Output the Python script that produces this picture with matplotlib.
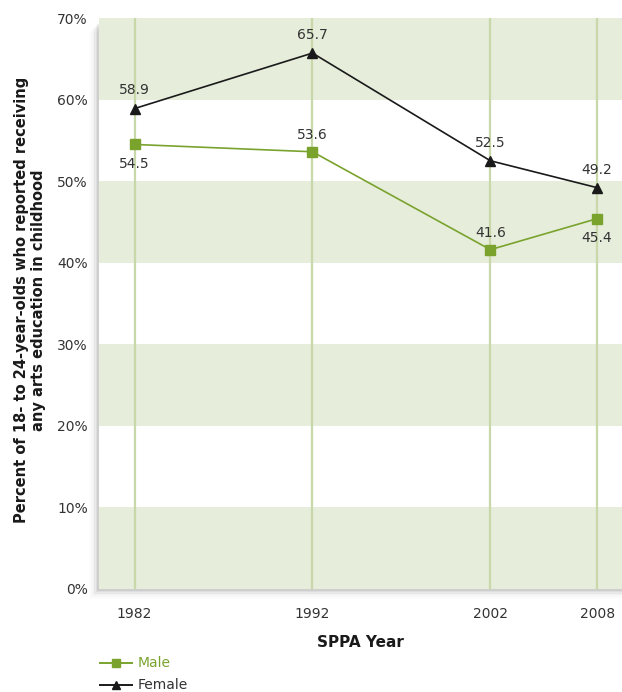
import matplotlib
matplotlib.use("Agg")
import matplotlib.pyplot as plt
from matplotlib.patches import Rectangle

years = [1982, 1992, 2002, 2008]
male = [54.5, 53.6, 41.6, 45.4]
female = [58.9, 65.7, 52.5, 49.2]
male_label_pos = ["below", "above", "above", "below"]
female_label_pos = ["above", "above", "above", "above"]
yticks = [0, 10, 20, 30, 40, 50, 60, 70]
ytick_labels = ["0%", "10%", "20%", "30%", "40%", "50%", "60%", "70%"]

GREEN = "#7aa32e"
BAND = "#e6eddb"
GRID = "#c8d8a8"
TXT = "#333333"
BLACK = "#1a1a1a"

fig = plt.figure(figsize=(6.22, 6.92), dpi=100)
L, B, R, T = 99/622, 103/692, 1.0, 674/692
# drop shadow
for i, a in enumerate([0.06, 0.045, 0.035, 0.025, 0.018, 0.012]):
    d = (i + 1) * 1.6
    r = Rectangle((L - d/622, B - d/692), R - L + d/622, T - B - 4/692,
                  transform=fig.transFigure, facecolor="black",
                  alpha=a, edgecolor="none", zorder=-5)
    fig.add_artist(r)
ax = fig.add_axes([L, B, R - L, T - B])
ax.set_zorder(5)
ax.set_facecolor("white")
ax.set_xlim(1980, 2009.4)
ax.set_ylim(0, 70)

for lo in [0, 20, 40, 60]:
    ax.axhspan(lo, lo + 10, color=BAND, zorder=0, lw=0)
for y in years:
    ax.axvline(y, color=GRID, lw=1.6, zorder=1)

ax.plot(years, male, color=GREEN, lw=1.2, marker="s", markersize=7, zorder=3)
ax.plot(years, female, color=BLACK, lw=1.2, marker="^", markersize=7.5, zorder=3)

for x, v, p in zip(years, male, male_label_pos):
    off = 12 if p == "above" else -14
    ax.annotate(f"{v}", (x, v), xytext=(0, off), textcoords="offset points",
                ha="center", va="center", fontsize=10, color=TXT)
for x, v, p in zip(years, female, female_label_pos):
    ax.annotate(f"{v}", (x, v), xytext=(0, 13), textcoords="offset points",
                ha="center", va="center", fontsize=10, color=TXT)

for s in ax.spines.values():
    s.set_visible(False)
ax.set_yticks(yticks)
ax.set_yticklabels(ytick_labels, color=TXT, fontsize=10)
ax.set_xticks(years)
ax.set_xticklabels([str(y) for y in years], color=TXT, fontsize=10)
ax.tick_params(length=0, pad=8)
ax.tick_params(axis="x", pad=13)

ax.set_xlabel("SPPA Year", fontsize=11, fontweight="bold", color=BLACK, labelpad=10)
fig.text(30/622, 1 - 300/692,
         "Percent of 18- to 24-year-olds who reported receiving\nany arts education in childhood",
         rotation=90, ha="center", va="center", fontsize=10.5, fontweight="bold",
         color=BLACK, linespacing=1.1)

# legend
lx0, lx1 = 100/622, 132/622
for yy, col, mk, lab in [(663, GREEN, "s", "Male"), (685, BLACK, "^", "Female")]:
    yf = 1 - yy/692
    fig.add_artist(plt.Line2D([lx0, lx1], [yf, yf], color=col, lw=1.4,
                              transform=fig.transFigure))
    fig.add_artist(plt.Line2D([(lx0 + lx1)/2], [yf], color=col, marker=mk,
                              markersize=6, transform=fig.transFigure))
    fig.text(138/622, yf, lab, ha="left", va="center", fontsize=10,
             color=GREEN if lab == "Male" else TXT)

fig.savefig("out.png", dpi=100)
